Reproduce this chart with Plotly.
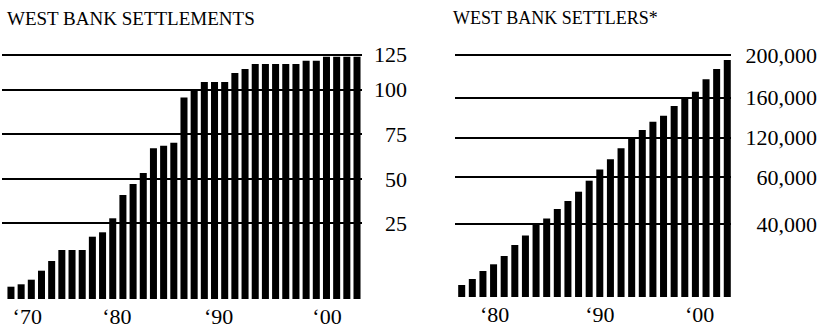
import plotly.graph_objects as go

W, H = 822, 331

# ---- data (bar heights read in the chart's own display scale) ----
settlement_years = list(range(1968, 2003))
settlement_bars = [12.3, 14.7, 19.3, 28.3, 38, 49, 49, 49, 62.3, 66.7,
                   80.7, 104, 115, 126, 150.7, 153.3, 156.3, 201.5, 210, 217,
                   217, 217, 226, 230, 235, 235, 235, 235, 235, 238.3,
                   238.3, 242.3, 242.3, 242.3, 242.3]
settlement_tick_labels = ["25", "50", "75", "100", "125"]
settlement_tick_pos = [76, 120, 165, 209.5, 244.5]
settlement_year_labels = ["\u201870", "\u201880", "\u201890", "\u201800"]
settlement_year_ticks = [1969.6, 1978.4, 1988.4, 1999.05]

settler_years = list(range(1977, 2003))
settler_bars = [12, 18, 26, 32.7, 41, 52, 61.5, 72.5, 78.5, 88,
                96, 105.3, 116.3, 127.5, 137.7, 148.7, 159, 167, 175.3, 181.3,
                191, 199.7, 205.3, 217.7, 228, 237]
settler_tick_labels = ["40,000", "60,000", "120,000", "160,000", "200,000"]
settler_tick_pos = [73, 119.7, 159.3, 199.3, 242]
settler_year_labels = ["\u201880", "\u201890", "\u201800"]
settler_year_ticks = [1980.1, 1990.0, 1999.4]

FONT = "Liberation Serif"

fig = go.Figure()
fig.add_trace(go.Bar(x=settlement_years, y=settlement_bars, width=0.69,
                     marker=dict(color="black", line=dict(width=0)),
                     xaxis="x", yaxis="y", showlegend=False))
fig.add_trace(go.Bar(x=settler_years, y=settler_bars, width=0.66,
                     marker=dict(color="black", line=dict(width=0)),
                     xaxis="x2", yaxis="y2", showlegend=False))

tickfont = dict(family=FONT, size=22, color="black")

fig.update_layout(
    width=W, height=H,
    margin=dict(l=0, r=0, t=0, b=0),
    paper_bgcolor="white", plot_bgcolor="white",
    font=dict(family=FONT, color="black"),
    xaxis=dict(domain=[2 / W, 362 / W], range=[1967.12, 2002.49], anchor="y",
               showgrid=False, zeroline=False, showline=False, ticks="",
               tickvals=settlement_year_ticks, ticktext=settlement_year_labels,
               tickfont=tickfont, ticklabelstandoff=2),
    yaxis=dict(domain=[32 / H, 291 / H], range=[0, 259], anchor="free",
               position=407 / W, side="left", showgrid=True, gridcolor="black",
               gridwidth=2, zeroline=False, showline=False, ticks="",
               tickvals=settlement_tick_pos, ticktext=settlement_tick_labels,
               tickfont=tickfont, ticklabelstandoff=0),
    xaxis2=dict(domain=[455 / W, 731 / W], range=[1976.37, 2002.35], anchor="y2",
                showgrid=False, zeroline=False, showline=False, ticks="",
                tickvals=settler_year_ticks, ticktext=settler_year_labels,
                tickfont=tickfont, ticklabelstandoff=2),
    yaxis2=dict(domain=[34 / H, 291 / H], range=[0, 257], anchor="free",
                position=817 / W, side="left", showgrid=True, gridcolor="black",
                gridwidth=2, zeroline=False, showline=False, ticks="",
                tickvals=settler_tick_pos, ticktext=settler_tick_labels,
                tickfont=tickfont, ticklabelstandoff=0),
    annotations=[
        dict(text="WEST BANK SETTLEMENTS", xref="paper", yref="paper",
             x=5 / W, y=1 - 6 / H, xanchor="left", yanchor="top", showarrow=False,
             font=dict(family=FONT, size=19, color="black")),
        dict(text="WEST BANK SETTLERS*", xref="paper", yref="paper",
             x=451 / W, y=1 - 6 / H, xanchor="left", yanchor="top", showarrow=False,
             font=dict(family=FONT, size=18, color="black")),
    ],
)

fig.write_html("out.html",
               config={"displayModeBar": False},
               post_script="document.body.style.margin='0';document.body.style.overflow='hidden';")
